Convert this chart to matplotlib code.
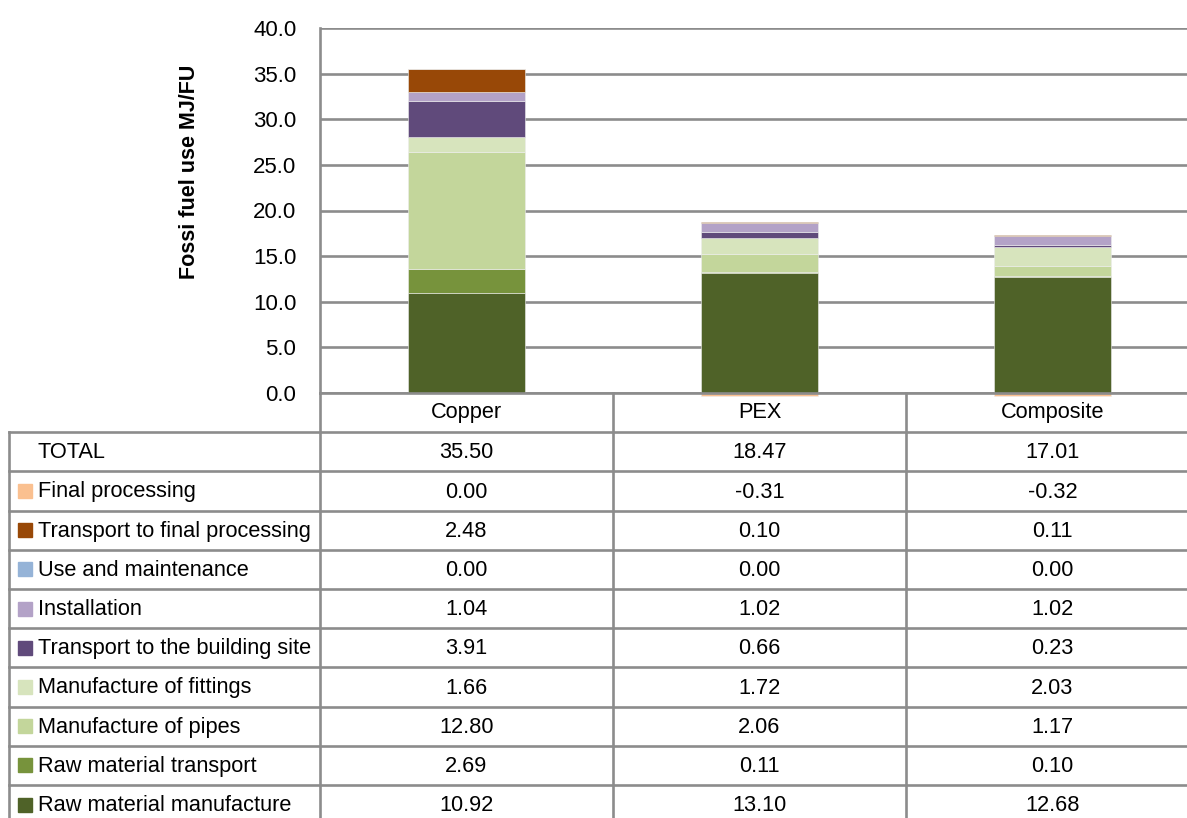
import matplotlib
matplotlib.use("Agg")
import matplotlib.pyplot as plt
from matplotlib.patches import Rectangle
import numpy as np

plt.rcParams['font.family'] = ['Liberation Sans', 'DejaVu Sans']

categories = ["Copper", "PEX", "Composite"]
stages = [
    "Raw material manufacture",
    "Raw material transport",
    "Manufacture of pipes",
    "Manufacture of fittings",
    "Transport to the building site",
    "Installation",
    "Use and maintenance",
    "Transport to final processing",
    "Final processing",
]
raw_material_manufacture = [10.92, 13.10, 12.68]
raw_material_transport = [2.69, 0.11, 0.10]
manufacture_of_pipes = [12.80, 2.06, 1.17]
manufacture_of_fittings = [1.66, 1.72, 2.03]
transport_to_building_site = [3.91, 0.66, 0.23]
installation = [1.04, 1.02, 1.02]
use_and_maintenance = [0.00, 0.00, 0.00]
transport_to_final_processing = [2.48, 0.10, 0.11]
final_processing = [0.00, -0.31, -0.32]
totals = [35.50, 18.47, 17.01]
yticks = [0.0, 5.0, 10.0, 15.0, 20.0, 25.0, 30.0, 35.0, 40.0]

series = [raw_material_manufacture, raw_material_transport, manufacture_of_pipes,
          manufacture_of_fittings, transport_to_building_site, installation,
          use_and_maintenance, transport_to_final_processing, final_processing]
colors = ["#4F6228", "#77933C", "#C3D69B", "#D7E4BD", "#604A7B",
          "#B3A2C7", "#95B3D7", "#984807", "#FAC090"]

W, H = 1187, 818
fig = plt.figure(figsize=(W / 100, H / 100), dpi=100)

# plot area in pixel layout
px_left, px_right, px_top, px_bottom = 320, 1199, 28, 393
ax = fig.add_axes([px_left / W, 1 - px_bottom / H, (px_right - px_left) / W, (px_bottom - px_top) / H])
ax.set_xlim(-0.5, 2.5)
ax.set_ylim(0, 40)
x = np.arange(len(categories))
pos_bottom = np.zeros(3)
neg_bottom = np.zeros(3)
for vals, c in zip(series, colors):
    v = np.array(vals, dtype=float)
    b = np.where(v >= 0, pos_bottom, neg_bottom)
    ax.bar(x, v, 0.4, bottom=b, color=c, edgecolor="#EDEDED", linewidth=0.4, zorder=3, clip_on=False)
    pos_bottom += np.where(v >= 0, v, 0)
    neg_bottom += np.where(v < 0, v, 0)

ax.set_yticks(yticks)
ax.set_yticklabels([f"{t:.1f}" for t in yticks], fontsize=16)
ax.tick_params(axis='y', length=0, pad=17)
ax.set_xticks([])
ax.grid(axis='y', color="#8C8C8C", linewidth=1.9, zorder=0)
for s in ["top", "right", "bottom"]:
    ax.spines[s].set_visible(False)
ax.spines["left"].set_color("#8C8C8C")
ax.spines["left"].set_linewidth(1.9)
ax.set_ylabel("Fossi fuel use MJ/FU", fontsize=15.5, fontweight='bold')
ax.yaxis.set_label_coords(-0.137, 0.605)

# table drawn on an overlay in pixel layout coordinates
tab = fig.add_axes([0, 0, 1, 1], zorder=5)
tab.set_xlim(0, W)
tab.set_ylim(H, 0)
tab.axis('off')
row_h = 39.2
col_edges = [px_left, px_left + 293, px_left + 586, px_left + 879]
lc = "#8C8C8C"
lw = 1.9
n_rows = 1 + 1 + len(stages)
y0 = px_bottom
ybot = y0 + n_rows * row_h
# horizontal lines
tab.plot([px_left, col_edges[-1]], [y0, y0], color=lc, lw=lw, clip_on=False)
for r in range(1, n_rows + 1):
    yy = y0 + r * row_h
    tab.plot([9, col_edges[-1]], [yy, yy], color=lc, lw=lw, clip_on=False)
# vertical lines
tab.plot([9, 9], [y0 + row_h, ybot], color=lc, lw=lw, clip_on=False)
for xe in col_edges:
    tab.plot([xe, xe], [y0, ybot], color=lc, lw=lw, clip_on=False)

fs = 15.7
centers = [(col_edges[i] + col_edges[i + 1]) / 2 for i in range(3)]
for i, c in enumerate(categories):
    tab.text(centers[i], y0 + row_h / 2, c, ha='center', va='center', fontsize=fs)
ry = y0 + 1.5 * row_h
tab.text(38, ry + 1, "TOTAL", ha='left', va='center', fontsize=fs)
for i in range(3):
    tab.text(centers[i], ry + 1, f"{totals[i]:.2f}", ha='center', va='center', fontsize=fs)
for k, idx in enumerate(range(len(stages) - 1, -1, -1)):
    ry = y0 + (2.5 + k) * row_h
    tab.add_patch(Rectangle((18, ry - 7), 14, 14, color=colors[idx]))
    tab.text(38, ry + 1, stages[idx], ha='left', va='center', fontsize=fs)
    for i in range(3):
        tab.text(centers[i], ry + 1, f"{series[idx][i]:.2f}", ha='center', va='center', fontsize=fs)

fig.savefig("out.png", dpi=100)
